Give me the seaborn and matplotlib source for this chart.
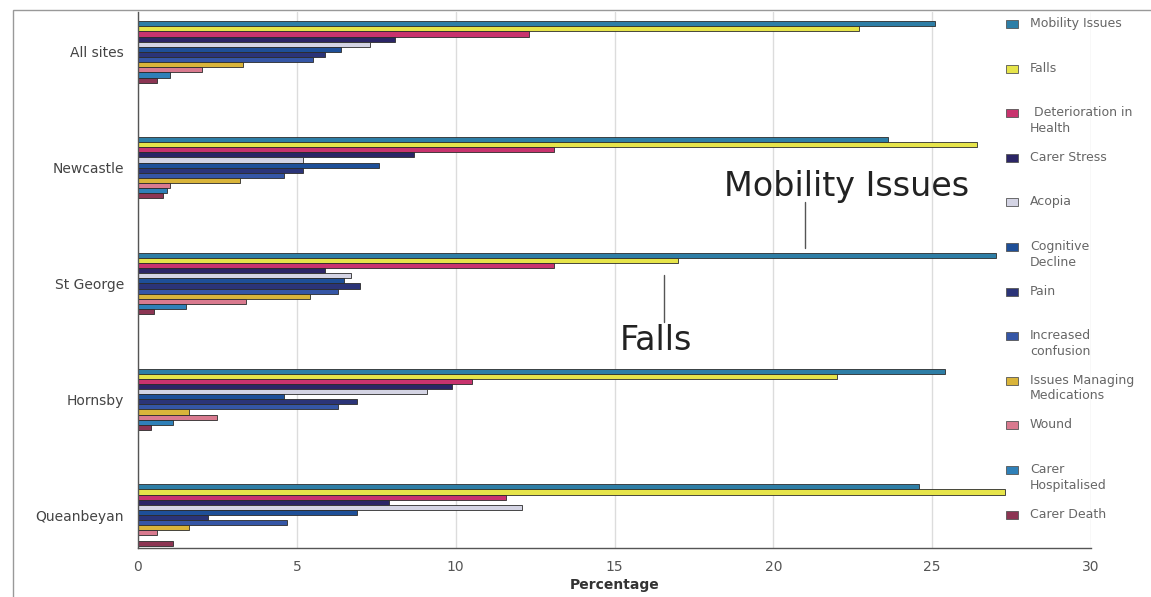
import pandas as pd
import numpy as np
from matplotlib import pyplot as plt
from matplotlib.patches import Rectangle
import seaborn as sns

sns.set_style('white')
plt.rcParams['font.family'] = ['DejaVu Sans']

sites = ['All sites', 'Newcastle', 'St George', 'Hornsby', 'Queanbeyan']
issues = ['Mobility Issues', 'Falls', 'Deterioration in Health', 'Carer Stress',
          'Acopia', 'Cognitive Decline', 'Pain', 'Increased confusion',
          'Issues Managing Medications', 'Wound', 'Carer Hospitalised', 'Carer Death']
legend_labels = ['Mobility Issues', 'Falls', ' Deterioration in\nHealth', 'Carer Stress',
                 'Acopia', 'Cognitive\nDecline', 'Pain', 'Increased\nconfusion',
                 'Issues Managing\nMedications', 'Wound', 'Carer\nHospitalised', 'Carer Death']

# percentages per site (All sites, Newcastle, St George, Hornsby, Queanbeyan)
mobility = [25.1, 23.6, 27.0, 25.4, 24.6]
falls = [22.7, 26.4, 17.0, 22.0, 27.3]
deterioration = [12.3, 13.1, 13.1, 10.5, 11.6]
carer_stress = [8.1, 8.7, 5.9, 9.9, 7.9]
acopia = [7.3, 5.2, 6.7, 9.1, 12.1]
cognitive = [6.4, 7.6, 6.5, 4.6, 6.9]
pain = [5.9, 5.2, 7.0, 6.9, 2.2]
confusion = [5.5, 4.6, 6.3, 6.3, 4.7]
medications = [3.3, 3.2, 5.4, 1.6, 1.6]
wound = [2.0, 1.0, 3.4, 2.5, 0.6]
carer_hosp = [1.0, 0.9, 1.5, 1.1, 0.0]
carer_death = [0.6, 0.8, 0.5, 0.4, 1.1]

colors = ['#2e7ea6', '#e6e44a', '#c8336e', '#2b2566', '#d4d4e4', '#1e4f98',
          '#2b3478', '#3556a6', '#d9b43a', '#d97a8f', '#2f80b8', '#8c3553']

series = [mobility, falls, deterioration, carer_stress, acopia, cognitive,
          pain, confusion, medications, wound, carer_hosp, carer_death]
rows = []
for name, vals in zip(issues, series):
    for s, v in zip(sites, vals):
        rows.append({'site': s, 'issue': name, 'pct': v})
df = pd.DataFrame(rows)

fig = plt.figure(figsize=(11.51, 5.97), dpi=100)
ax = fig.add_axes([138 / 1151, 1 - 548 / 597, (1091 - 138) / 1151, (548 - 12) / 597])

sns.barplot(data=df, x='pct', y='site', hue='issue', order=sites, hue_order=issues,
            palette=colors, orient='h', width=0.53, errorbar=None, legend=False,
            edgecolor='#2b2b2b', linewidth=0.6, saturation=1, ax=ax)

ax.set_xlim(0, 30)
ax.set_ylim(4.285, -0.345)
ax.set_xticks(np.arange(0, 31, 5))
ax.xaxis.grid(True, color='#dcdcdc', linewidth=1)
ax.set_axisbelow(True)
for side in ['top', 'right']:
    ax.spines[side].set_visible(False)
for side in ['left', 'bottom']:
    ax.spines[side].set_color('#555555')
    ax.spines[side].set_linewidth(1)
ax.tick_params(axis='x', direction='inout', length=5, color='#555555',
               labelsize=10, labelcolor='#555555', pad=6)
ax.tick_params(axis='y', length=0, labelsize=10, labelcolor='#444444', pad=10)
ax.set_ylabel('')
ax.set_xlabel('Percentage', fontsize=10, fontweight='bold', color='#333333', labelpad=3)

# callouts
ax.plot([21.0, 21.0], [1.30, 1.69], color='#555555', lw=1)
ax.text(22.3, 1.16, 'Mobility Issues', fontsize=24, color='#222222', ha='center', va='center')
ax.plot([16.55, 16.55], [1.93, 2.33], color='#555555', lw=1)
ax.text(16.3, 2.49, 'Falls', fontsize=24, color='#222222', ha='center', va='center')

# legend down the right side
for i, (lab, c) in enumerate(zip(legend_labels, colors)):
    yc = 24 + i * 44.6
    fig.add_artist(Rectangle((1006 / 1151, 1 - (yc + 4) / 597), 12 / 1151, 8 / 597,
                             transform=fig.transFigure, facecolor=c,
                             edgecolor='#555555', linewidth=0.6))
    fig.text(1030 / 1151, 1 - (yc - 7) / 597, lab, fontsize=9, color='#666666',
             ha='left', va='top', linespacing=1.25)

# scanned page frame
fig.add_artist(Rectangle((13 / 1151, -0.02), 1.1, 1.02 - 10 / 597, transform=fig.transFigure,
                         fill=False, edgecolor='#999999', linewidth=1))

plt.savefig('out.png', dpi=100)
